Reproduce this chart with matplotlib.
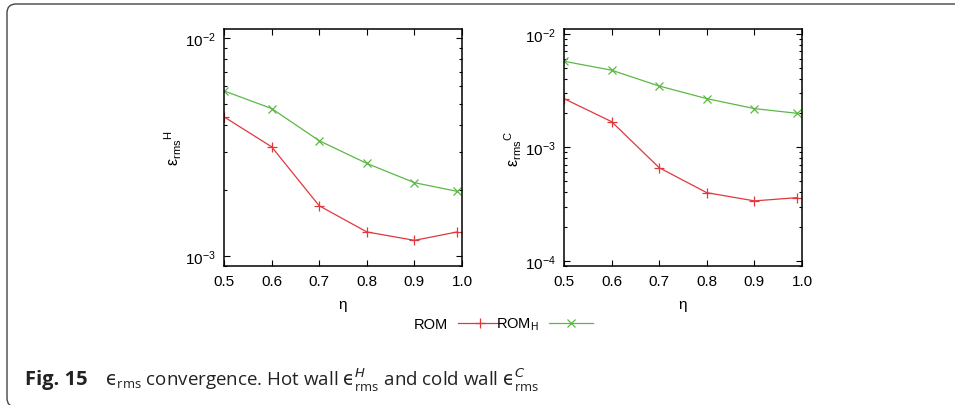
import matplotlib
matplotlib.use("Agg")
import matplotlib.pyplot as plt
from matplotlib.ticker import LogLocator, NullFormatter, FixedLocator
from matplotlib.patches import FancyBboxPatch

plt.rcParams['font.family'] = ['Liberation Sans', 'DejaVu Sans']
plt.rcParams['mathtext.fontset'] = 'dejavusans'
plt.rcParams['axes.unicode_minus'] = False

# Reduced-order model error vs. eta
eta = [0.5, 0.6, 0.7, 0.8, 0.9, 0.99]
hot_rom = [4.35e-3, 3.17e-3, 1.70e-3, 1.29e-3, 1.18e-3, 1.29e-3]
hot_rom_h = [5.72e-3, 4.75e-3, 3.38e-3, 2.66e-3, 2.17e-3, 1.98e-3]
cold_rom = [2.68e-3, 1.68e-3, 6.6e-4, 3.98e-4, 3.37e-4, 3.6e-4]
cold_rom_h = [5.72e-3, 4.77e-3, 3.46e-3, 2.68e-3, 2.19e-3, 1.99e-3]

xticks = [0.5, 0.6, 0.7, 0.8, 0.9, 1.0]
xtick_labels = ['0.5', '0.6', '0.7', '0.8', '0.9', '1.0']
series_labels = ['ROM', r'ROM$_\mathregular{H}$']
caption_head = 'Fig. 15'
caption_body = (r'$\mathrm{ϵ}_{\mathregular{rms}}$ convergence. Hot wall '
                r'$\mathrm{ϵ}^{H}_{\mathregular{rms}}$ and cold wall '
                r'$\mathrm{ϵ}^{C}_{\mathregular{rms}}$')

RED = '#e0383c'
GREEN = '#5cb845'

W, H = 955, 406
fig = plt.figure(figsize=(W / 100, H / 100), dpi=100)


def px_axes(x0, y0, x1, y1):
    return fig.add_axes([x0 / W, 1 - y1 / H, (x1 - x0) / W, (y1 - y0) / H])


ax_h = px_axes(224, 30, 462, 267)
ax_c = px_axes(564, 30, 802, 267)

panels = [
    (ax_h, hot_rom, hot_rom_h, (9e-4, 1.1e-2), r'$\mathregular{ε_{rms}{}^{H}}$'),
    (ax_c, cold_rom, cold_rom_h, (9e-5, 1.1e-2), r'$\mathregular{ε_{rms}{}^{C}}$'),
]

handles = []
for ax, rom, rom_h, ylim, ylab in panels:
    l1, = ax.plot(eta, rom, color=RED, lw=0.9, marker='+', ms=6.5, mew=0.9)
    l2, = ax.plot(eta, rom_h, color=GREEN, lw=0.9, marker='x', ms=6, mew=0.9)
    handles = [l1, l2]
    ax.set_yscale('log')
    ax.set_ylim(*ylim)
    ax.set_xlim(0.5, 1.0)
    ax.xaxis.set_major_locator(FixedLocator(xticks))
    ax.set_xticklabels(xtick_labels)
    ax.yaxis.set_major_locator(LogLocator(base=10, numticks=10))
    ax.yaxis.set_minor_locator(LogLocator(base=10, subs=range(2, 10), numticks=20))
    ax.yaxis.set_minor_formatter(NullFormatter())
    ax.tick_params(which='both', direction='in', top=True, right=True,
                   labelsize=11, colors='black', width=0.8)
    ax.tick_params(which='major', length=4)
    ax.tick_params(which='minor', length=2)
    ax.tick_params(axis='x', pad=6)
    ax.tick_params(axis='y', pad=6)
    for s in ax.spines.values():
        s.set_linewidth(1.1)
    ax.set_xlabel('η', fontsize=11)
    ax.xaxis.label.set_va('center')
    ax.xaxis.set_label_coords(0.5, -0.16)
    ax.set_ylabel(ylab, fontsize=11.5)
    ax.yaxis.label.set_va('center')
    ax.yaxis.set_label_coords(-0.215, 0.5)

fig.legend(handles, series_labels, loc='center',
           bbox_to_anchor=(503 / W, 1 - 325 / H), ncol=2, frameon=False,
           markerfirst=False, fontsize=10.5, handlelength=3.0,
           handletextpad=0.7, columnspacing=-0.4)

# Rounded frame around the figure panel (inch units)
frame = FancyBboxPatch((7 / 100, -0.02), 9.7, (406 - 5) / 100 + 0.02,
                       boxstyle='round,pad=0,rounding_size=0.09',
                       transform=fig.dpi_scale_trans, fill=False,
                       edgecolor='#444444', lw=1.0)
fig.patches.append(frame)

fig.text(25 / W, 1 - 380 / H, caption_head, fontsize=14.5, fontweight='bold',
         family=['Open Sans', 'DejaVu Sans'], va='center', ha='left', color='#222222')
fig.text(105 / W, 1 - 380 / H, caption_body, fontsize=13.5,
         family=['Open Sans', 'DejaVu Sans'], va='center', ha='left', color='#222222')

fig.savefig('out.png', dpi=100)
